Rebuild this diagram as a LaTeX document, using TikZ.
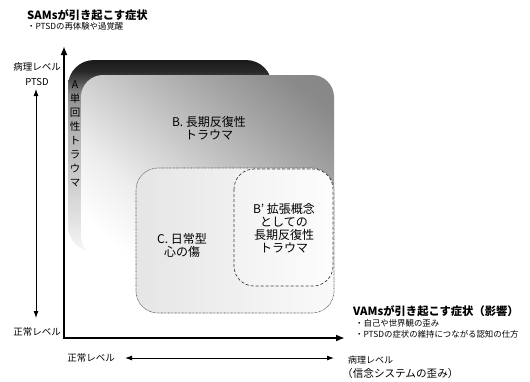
\documentclass[tikz,border=0pt]{standalone}
\usepackage{fontspec}
\setmainfont{Noto Sans CJK JP}
\usetikzlibrary{arrows.meta}
\pgfdeclareverticalshading{shadeA}{100bp}{%
  color(0bp)=(black!3); color(25bp)=(black!3); color(33bp)=(black!11);
  color(43bp)=(black!19); color(57bp)=(black!30); color(66bp)=(black!44);
  color(70bp)=(black!72); color(72bp)=(black!84); color(75bp)=(black!90);
  color(100bp)=(black!90)}
\pgfdeclareverticalshading{shadeB}{100bp}{%
  color(0bp)=(white); color(22bp)=(white); color(35bp)=(black!7);
  color(50bp)=(black!21); color(65bp)=(black!35); color(78bp)=(black!46);
  color(100bp)=(black!50)}
\tikzset{
  axisline/.style={line width=2.4pt, line join=miter},
  thinarrow/.style={line width=0.9pt, {Latex[length=7pt,width=5pt]}-{Latex[length=7pt,width=5pt]}},
  lbl/.style={inner sep=0pt, font=\fontsize{9.5}{11}\selectfont},
  boxtext/.style={inner sep=0pt, align=center, font=\fontsize{12}{13}\selectfont},
  smalltext/.style={inner sep=0pt, anchor=west, font=\fontsize{8.4}{10}\selectfont},
  titletext/.style={inner sep=0pt, anchor=west, font=\fontsize{11.3}{13}\selectfont\bfseries}
}
\begin{document}
\begin{tikzpicture}[x=1pt,y=-1pt]
\useasboundingbox (0,0) rectangle (530,381);
% regions
\path[shading=shadeA, rounded corners=26pt] (68,60) rectangle (272,252);
\path[shading=shadeB, shading angle=-40, rounded corners=22pt] (81,75) rectangle (334,258);
\path[left color=black!10, right color=black!2, rounded corners=22pt,
      draw=black!70, line width=0.6pt, dash pattern=on 0.7pt off 0.7pt] (136,168) rectangle (334,313);
\path[left color=black!5, right color=black!1, rounded corners=20pt,
      draw=black!75, line width=0.7pt, dash pattern=on 3pt off 2pt] (234,169) rectangle (333,286);
% region texts
\node[boxtext, font=\fontsize{10.5}{13.9}\selectfont] (tA) at (75,134) {A\\単\\回\\性\\ト\\ラ\\ウ\\マ};
\node[boxtext] (tB) at (209,128) {B. 長期反復性\\トラウマ};
\node[boxtext] (tC) at (182,245) {C. 日常型\\心の傷};
\node[boxtext] (tBp) at (284,228) {B' 拡張概念\\としての\\長期反復性\\トラウマ};
% axes
\coordinate (O) at (64,338);
\coordinate (ytop) at (64,46);
\coordinate (xend) at (345,338);
\draw[axisline, {Latex[length=9pt,width=7pt]}-{Latex[length=9pt,width=7pt]}] (ytop) -- (O) -- (xend);
% left arrow
\coordinate (lt) at (36,89);
\coordinate (lb) at (36,318);
\draw[thinarrow] (lt) -- (lb);
\node[lbl] (lpath) at (37,67) {病理レベル};
\node[lbl] (lptsd) at (37,82) {PTSD};
\node[lbl] (lnorm) at (37,332) {正常レベル};
% bottom arrow
\coordinate (bl) at (125,358);
\coordinate (br) at (334,358);
\draw[thinarrow] (bl) -- (br);
\node[lbl] (bnorm) at (91,358) {正常レベル};
\node[lbl, anchor=west, font=\fontsize{9}{11}\selectfont] (bpath) at (348,360) {病理レベル};
\node[lbl, anchor=west, font=\fontsize{10.6}{12}\selectfont] (bbel) at (342,373) {（信念システムの歪み）};
% titles
\node[titletext] (sams) at (27,15) {SAMsが引き起こす症状};
\node[smalltext] (sams1) at (27,26) {・PTSDの再体験や過覚醒};
\node[titletext] (vams) at (353,311) {VAMsが引き起こす症状（影響）};
\node[smalltext] (vams1) at (355,323) {・自己や世界観の歪み};
\node[smalltext] (vams2) at (355,334) {・PTSDの症状の維持につながる認知の仕方};
\end{tikzpicture}
\end{document}
